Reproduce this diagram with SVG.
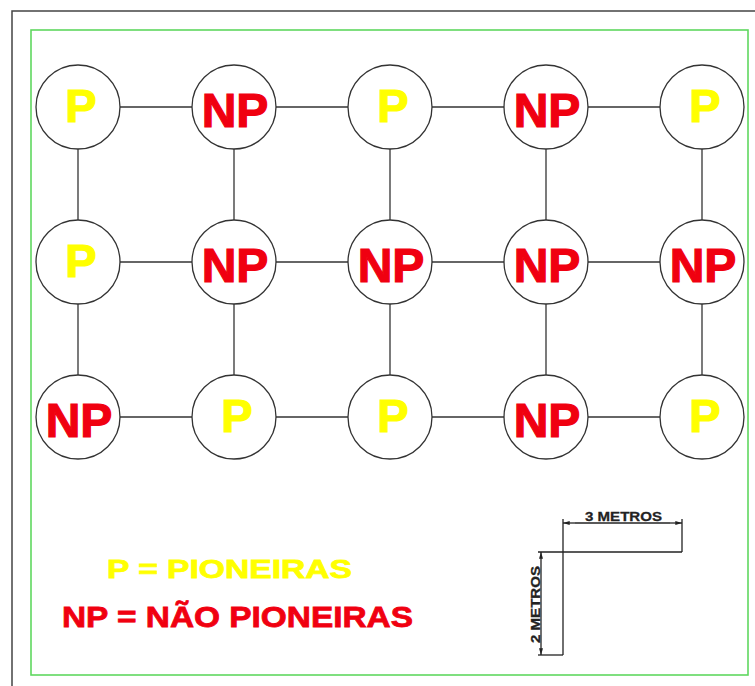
<svg xmlns="http://www.w3.org/2000/svg" width="755" height="686" viewBox="0 0 755 686">
<defs>
<style>
.node circle{fill:#fff;stroke:#333;stroke-width:1.3}
.p{fill:#ffff00;stroke:#ffff00;stroke-width:1.2;font-family:"Liberation Sans",Arial,sans-serif;font-weight:bold;font-size:47px;text-anchor:middle}
.np{fill:#f00010;stroke:#f00010;stroke-width:1.2;font-family:"Liberation Sans",Arial,sans-serif;font-weight:bold;font-size:48px;text-anchor:middle}
.conn line{stroke:#333;stroke-width:1.3}
.dim line{stroke:#222;stroke-width:1.3}
.dimt{font-family:"Liberation Sans",Arial,sans-serif;font-weight:bold;font-size:13.5px;fill:#222;stroke:#222;stroke-width:0.3}
.leg{font-family:"Liberation Sans",Arial,sans-serif;font-weight:bold}
</style>
<marker id="ar" viewBox="0 0 10 6" refX="10" refY="3" markerWidth="8" markerHeight="4" orient="auto" markerUnits="userSpaceOnUse">
<path d="M0,0 L10,3 L0,6 Z" fill="#222"/>
</marker>
</defs>
<rect width="755" height="686" fill="#fff"/>
<path d="M12,690 V11 H760" fill="none" stroke="#444" stroke-width="1.5"/>
<rect x="31" y="30" width="717" height="645" fill="none" stroke="#5fd85f" stroke-width="1.6"/>
<g id="connectors" class="conn">
<line x1="120" y1="107" x2="192" y2="107"/><line x1="276" y1="107" x2="348" y2="107"/><line x1="432" y1="107" x2="504" y2="107"/><line x1="588" y1="107" x2="660" y2="107"/>
<line x1="120" y1="262" x2="192" y2="262"/><line x1="276" y1="262" x2="348" y2="262"/><line x1="432" y1="262" x2="504" y2="262"/><line x1="588" y1="262" x2="660" y2="262"/>
<line x1="120" y1="417" x2="192" y2="417"/><line x1="276" y1="417" x2="348" y2="417"/><line x1="432" y1="417" x2="504" y2="417"/><line x1="588" y1="417" x2="660" y2="417"/>
<line x1="78" y1="149" x2="78" y2="220"/><line x1="234" y1="149" x2="234" y2="220"/><line x1="390" y1="149" x2="390" y2="220"/><line x1="546" y1="149" x2="546" y2="220"/><line x1="702" y1="149" x2="702" y2="220"/>
<line x1="78" y1="304" x2="78" y2="375"/><line x1="234" y1="304" x2="234" y2="375"/><line x1="390" y1="304" x2="390" y2="375"/><line x1="546" y1="304" x2="546" y2="375"/><line x1="702" y1="304" x2="702" y2="375"/>
</g>
<g id="n11" class="node"><circle cx="78" cy="107" r="42"/><text class="p" x="81" y="122">P</text></g>
<g id="n12" class="node"><circle cx="234" cy="107" r="42"/><text class="np" x="235" y="127">NP</text></g>
<g id="n13" class="node"><circle cx="390" cy="107" r="42"/><text class="p" x="393" y="122">P</text></g>
<g id="n14" class="node"><circle cx="546" cy="107" r="42"/><text class="np" x="547" y="127">NP</text></g>
<g id="n15" class="node"><circle cx="702" cy="107" r="42"/><text class="p" x="705" y="122">P</text></g>
<g id="n21" class="node"><circle cx="78" cy="262" r="42"/><text class="p" x="81" y="277">P</text></g>
<g id="n22" class="node"><circle cx="234" cy="262" r="42"/><text class="np" x="235" y="282">NP</text></g>
<g id="n23" class="node"><circle cx="390" cy="262" r="42"/><text class="np" x="391" y="282">NP</text></g>
<g id="n24" class="node"><circle cx="546" cy="262" r="42"/><text class="np" x="547" y="282">NP</text></g>
<g id="n25" class="node"><circle cx="702" cy="262" r="42"/><text class="np" x="703" y="282">NP</text></g>
<g id="n31" class="node"><circle cx="78" cy="417" r="42"/><text class="np" x="79" y="437">NP</text></g>
<g id="n32" class="node"><circle cx="234" cy="417" r="42"/><text class="p" x="237" y="432">P</text></g>
<g id="n33" class="node"><circle cx="390" cy="417" r="42"/><text class="p" x="393" y="432">P</text></g>
<g id="n34" class="node"><circle cx="546" cy="417" r="42"/><text class="np" x="547" y="437">NP</text></g>
<g id="n35" class="node"><circle cx="702" cy="417" r="42"/><text class="p" x="705" y="432">P</text></g>
<g id="legend">
<text class="leg" x="107" y="578" textLength="245" lengthAdjust="spacingAndGlyphs" font-size="26" fill="#ffff00" stroke="#ffff00" stroke-width="0.8">P = PIONEIRAS</text>
<text class="leg" x="62" y="627" textLength="351" lengthAdjust="spacingAndGlyphs" font-size="30" fill="#f00010" stroke="#f00010" stroke-width="0.8">NP = NÃO PIONEIRAS</text>
</g>
<g id="scale" class="dim">
<line x1="563" y1="519" x2="563" y2="655"/>
<line x1="538" y1="552" x2="682" y2="552"/>
<line x1="682" y1="519" x2="682" y2="552"/>
<line x1="538" y1="655" x2="563" y2="655"/>
<line x1="575" y1="523" x2="563" y2="523" marker-end="url(#ar)"/>
<line x1="575" y1="523" x2="670" y2="523"/>
<line x1="670" y1="523" x2="682" y2="523" marker-end="url(#ar)"/>
<line x1="541" y1="564" x2="541" y2="552" marker-end="url(#ar)"/>
<line x1="541" y1="564" x2="541" y2="643"/>
<line x1="541" y1="643" x2="541" y2="655" marker-end="url(#ar)"/>
<text class="dimt" x="585" y="521" textLength="77" lengthAdjust="spacingAndGlyphs">3 METROS</text>
<text class="dimt" transform="translate(540,643) rotate(-90)" x="0" y="0" textLength="77" lengthAdjust="spacingAndGlyphs">2 METROS</text>
</g>
</svg>
